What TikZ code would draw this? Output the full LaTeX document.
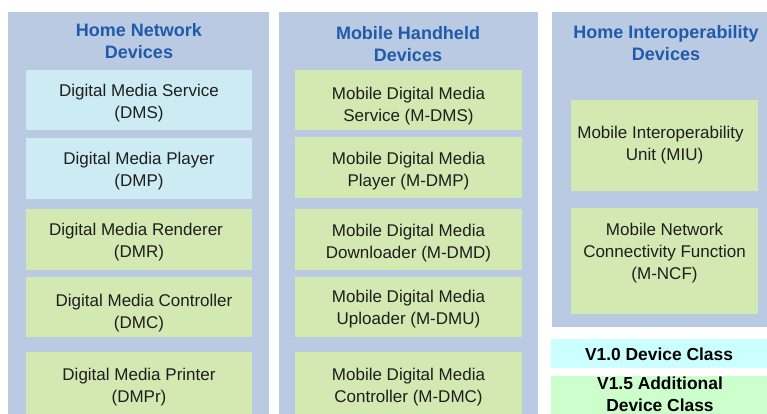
\documentclass[tikz,border=0pt]{standalone}
\usepackage{fontspec}
\setmainfont{Liberation Sans}
\definecolor{colbg}{HTML}{BACAE2}
\definecolor{v10box}{HTML}{CDEBF3}
\definecolor{v15box}{HTML}{D4E8B2}
\definecolor{legcyan}{HTML}{CCFFFF}
\definecolor{leggreen}{HTML}{CCFFCC}
\definecolor{headblue}{HTML}{1F5BAA}
\definecolor{bodytext}{HTML}{1E1E1E}
\newcommand{\boxtext}[2]{\raisebox{-#1}[\height][\depth]{\begin{tabular}{@{}c@{}}#2\end{tabular}}}
\tikzset{
  column/.style={fill=colbg, draw=none, inner sep=0pt, anchor=north west},
  devbox/.style={draw=none, inner sep=0pt, text=bodytext,
    font=\fontsize{17}{22}\selectfont},
  heading/.style={align=center, text=headblue, inner sep=0pt,
    font=\fontsize{18}{22}\selectfont\bfseries},
  legend/.style={draw=none, inner sep=0pt, align=center, text=black,
    font=\fontsize{17.4}{22}\selectfont\bfseries, anchor=north west},
}
\begin{document}
\begin{tikzpicture}[x=1pt,y=-1pt]
\useasboundingbox (0,0) rectangle (767,414);
\clip (0,0) rectangle (767,414);
\fill[white] (0,0) rectangle (767,414);
% columns
\node[column, minimum width=261pt, minimum height=410pt] (col1) at (8,12) {};
\node[column, minimum width=259pt, minimum height=410pt] (col2) at (279,12) {};
\node[column, minimum width=222pt, minimum height=315pt] (col3) at (552,12) {};
% headings
\node[heading] (h1) at (139,41) {Home Network\\Devices};
\node[heading] (h2) at (408,44) {Mobile Handheld\\Devices};
\node[heading] (h3) at (666,43) {Home Interoperability\\Devices};
% column 1
\node[devbox, fill=v10box, minimum width=226pt, minimum height=60pt] (dms) at (139,100) {\boxtext{3pt}{Digital Media Service\\(DMS)}};
\node[devbox, fill=v10box, minimum width=226pt, minimum height=61pt] (dmp) at (139,168.5) {\boxtext{3pt}{Digital Media Player\\(DMP)}};
\node[devbox, fill=v15box, minimum width=226pt, minimum height=61pt] (dmr) at (139,239.5) {\boxtext{3pt}{\hspace*{-6pt}Digital Media Renderer\\(DMR)}};
\node[devbox, fill=v15box, minimum width=226pt, minimum height=60pt] (dmc) at (139,307) {\boxtext{6pt}{\hspace*{10pt}Digital Media Controller\\(DMC)}};
\node[devbox, fill=v15box, minimum width=226pt, minimum height=70pt] (dmpr) at (139,387) {\boxtext{0pt}{Digital Media Printer\\(DMPr)}};
% column 2
\node[devbox, fill=v15box, minimum width=227pt, minimum height=60pt] (mdms) at (408.5,100) {\boxtext{6pt}{Mobile Digital Media\\Service (M-DMS)}};
\node[devbox, fill=v15box, minimum width=227pt, minimum height=61pt] (mdmp) at (408.5,167.5) {\boxtext{4pt}{Mobile Digital Media\\Player (M-DMP)}};
\node[devbox, fill=v15box, minimum width=227pt, minimum height=61pt] (mdmd) at (408.5,239.5) {\boxtext{4pt}{Mobile Digital Media\\Downloader (M-DMD)}};
\node[devbox, fill=v15box, minimum width=227pt, minimum height=60pt] (mdmu) at (408.5,307) {\boxtext{2pt}{Mobile Digital Media\\Uploader (M-DMU)}};
\node[devbox, fill=v15box, minimum width=227pt, minimum height=70pt] (mdmc) at (408.5,387) {\boxtext{0pt}{Mobile Digital Media\\Controller (M-DMC)}};
% column 3
\node[devbox, fill=v15box, minimum width=187pt, minimum height=91pt] (miu) at (664.5,145.5) {\boxtext{0pt}{\hspace*{-8pt}Mobile Interoperability\\Unit (MIU)}};
\node[devbox, fill=v15box, minimum width=187pt, minimum height=106pt] (mncf) at (664.5,261) {\boxtext{-8pt}{Mobile Network\\Connectivity Function\\(M-NCF)}};
% legend
\node[legend, fill=legcyan, minimum width=220pt, minimum height=29pt] (leg10) at (551,339) {};
\node[legend, anchor=center] (leg10text) at (659,354) {V1.0 Device Class};
\node[legend, fill=leggreen, minimum width=220pt, minimum height=45pt] (leg15) at (551,376) {};
\node[legend, anchor=north] (leg15text) at (660,377) {V1.5 Additional\\Device Class};
\end{tikzpicture}
\end{document}
